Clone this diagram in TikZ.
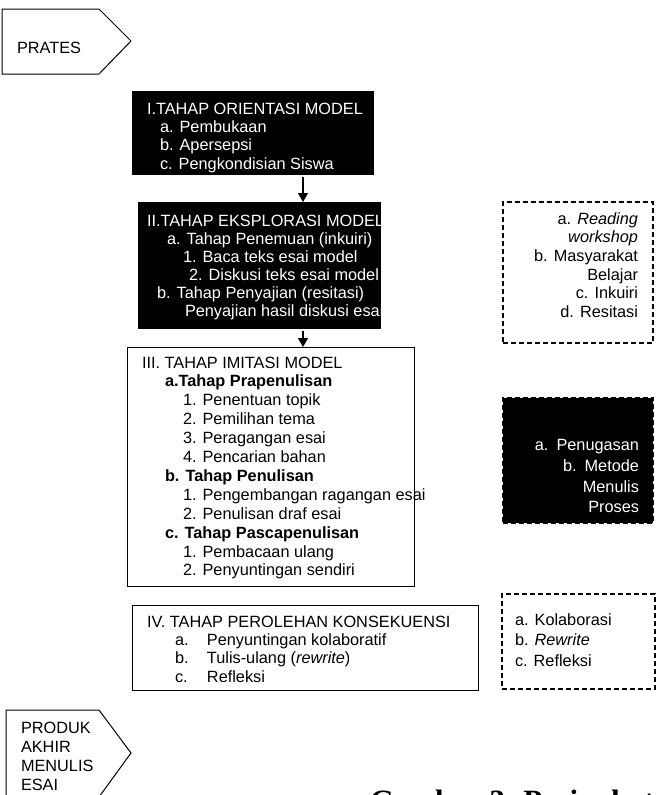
\documentclass[tikz,border=0pt]{standalone}
\usepackage{fontspec}
\setmainfont{Liberation Sans}
\newfontfamily\capfont{Liberation Serif}
\usetikzlibrary{arrows.meta}
\begin{document}
\begin{tikzpicture}[x=1pt,y=-1pt,
  txt/.style={inner sep=0pt,outer sep=0pt,anchor=base west,font=\fontsize{16.3}{18}\selectfont},
  rtxt/.style={txt,anchor=base east},
  wtxt/.style={txt,text=white},
  boxbase/.style={rectangle,anchor=north west,inner sep=0pt,outer sep=0pt},
  blackbox/.style={boxbase,fill=black,draw=black},
  whitebox/.style={boxbase,draw=black,line width=1pt},
  dashbox/.style={boxbase,draw=black,line width=1.4pt,dash pattern=on 5pt off 3pt},
  arr/.style={line width=1.3pt,-{Triangle[length=9pt,width=10pt]},shorten <=3pt},
  shapeline/.style={draw=black,line width=1pt}
]
\useasboundingbox (0,0) rectangle (657,795);

% PRATES
\draw[shapeline] (2,9) -- (99,9) -- (131,41) -- (99,74) -- (2,74) -- cycle;
\node[txt] (prates) at (17,53) {PRATES};

% Box I
\node[blackbox,minimum width=241pt,minimum height=83pt] (b1) at (132,91) {};
\begin{scope}
\clip (132,91) rectangle (373,174);
\node[wtxt] (t11) at (147,114) {I.TAHAP ORIENTASI MODEL};
\node[wtxt] (t12) at (160,132) {a. Pembukaan};
\node[wtxt] (t13) at (160,150) {b. Apersepsi};
\node[wtxt] (t14) at (160,169) {c. Pengkondisian Siswa};
\end{scope}

% Box II
\node[blackbox,minimum width=242pt,minimum height=126pt] (b2) at (138,202) {};
\node[wtxt] (t21) at (147,226) {II.TAHAP EKSPLORASI MODEL};
\node[wtxt] (t22) at (167,244) {a. Tahap Penemuan (inkuiri)};
\node[wtxt] (t23) at (183,262) {1. Baca teks esai model};
\node[wtxt] (t24) at (189,280) {2. Diskusi teks esai model};
\node[wtxt] (t25) at (157,298) {b. Tahap Penyajian (resitasi)};
\node[wtxt] (t26) at (185,316) {Penyajian hasil diskusi esai};

% Box III
\node[whitebox,minimum width=287pt,minimum height=239pt] (b3) at (127,347) {};
\node[txt] (t31) at (142,368) {III. TAHAP IMITASI MODEL};
\node[txt,font=\fontsize{16.3}{18}\selectfont\bfseries] (t32) at (165,386.9) {a.Tahap Prapenulisan};
\node[txt] (t33) at (183,405.8) {1. Penentuan topik};
\node[txt] (t34) at (183,424.7) {2. Pemilihan tema};
\node[txt] (t35) at (183,443.6) {3. Peragangan esai};
\node[txt] (t36) at (183,462.5) {4. Pencarian bahan};
\node[txt,font=\fontsize{16.3}{18}\selectfont\bfseries] (t37) at (165,481.4) {b. Tahap Penulisan};
\node[txt] (t38) at (183,500.3) {1. Pengembangan ragangan esai};
\node[txt] (t39) at (183,519.2) {2. Penulisan draf esai};
\node[txt,font=\fontsize{16.3}{18}\selectfont\bfseries] (t310) at (165,538.1) {c. Tahap Pascapenulisan};
\node[txt] (t311) at (183,557) {1. Pembacaan ulang};
\node[txt] (t312) at (183,575.9) {2. Penyuntingan sendiri};

% Box IV
\node[whitebox,minimum width=346pt,minimum height=85pt] (b4) at (132,605) {};
\node[txt] (t41) at (147,627) {IV. TAHAP PEROLEHAN KONSEKUENSI};
\node[txt] (t42) at (175,645) {\makebox[32pt][l]{a.}Penyuntingan kolaboratif};
\node[txt] (t43) at (175,663.5) {\makebox[32pt][l]{b.}Tulis-ulang (\textit{rewrite})};
\node[txt] (t44) at (175,682) {\makebox[32pt][l]{c.}Refleksi};

% arrows
\coordinate (ax) at (303,0);
\draw[arr] (b1.south -| ax) -- (b2.north -| ax);
\draw[arr] (b2.south -| ax) -- (b3.north -| ax);

% Right box 1
\node[dashbox,minimum width=150pt,minimum height=141pt] (r1) at (503,202) {};
\node[rtxt] (s11) at (638,224) {a. \textit{Reading}};
\node[rtxt] (s12) at (638,242.7) {\textit{workshop}};
\node[rtxt] (s13) at (638,261.4) {b. Masyarakat};
\node[rtxt] (s14) at (638,280.1) {Belajar};
\node[rtxt] (s15) at (638,298.8) {c. Inkuiri};
\node[rtxt] (s16) at (638,317.5) {d. Resitasi};

% Right box 2
\node[dashbox,fill=black,minimum width=150pt,minimum height=125pt] (r2) at (503,398) {};
\node[rtxt,text=white] (s21) at (639,450) {a.\hspace{8pt}Penugasan};
\node[rtxt,text=white] (s22) at (639,471) {b.\hspace{8pt}Metode};
\node[rtxt,text=white] (s23) at (639,492) {Menulis};
\node[rtxt,text=white] (s24) at (639,512.5) {Proses};

% Right box 3
\node[dashbox,minimum width=153pt,minimum height=95pt] (r3) at (502,594) {};
\node[txt] (s31) at (515,625) {a. Kolaborasi};
\node[txt] (s32) at (515,645.5) {b. \textit{Rewrite}};
\node[txt] (s33) at (515,666) {c. Refleksi};

% PRODUK
\draw[shapeline] (6,710) -- (99,710) -- (131,753) -- (99,797) -- (6,797) -- cycle;
\node[txt] (p1) at (21,733) {PRODUK};
\node[txt] (p2) at (21,752) {AKHIR};
\node[txt] (p3) at (21,771) {MENULIS};
\node[txt] (p4) at (21,790) {ESAI};

% caption (cut by the page edge, as in the reference)
\node[txt,font=\capfont\fontsize{31}{34}\selectfont\bfseries] (cap) at (370,811) {Gambar 3. Peringkat};
\end{tikzpicture}
\end{document}
